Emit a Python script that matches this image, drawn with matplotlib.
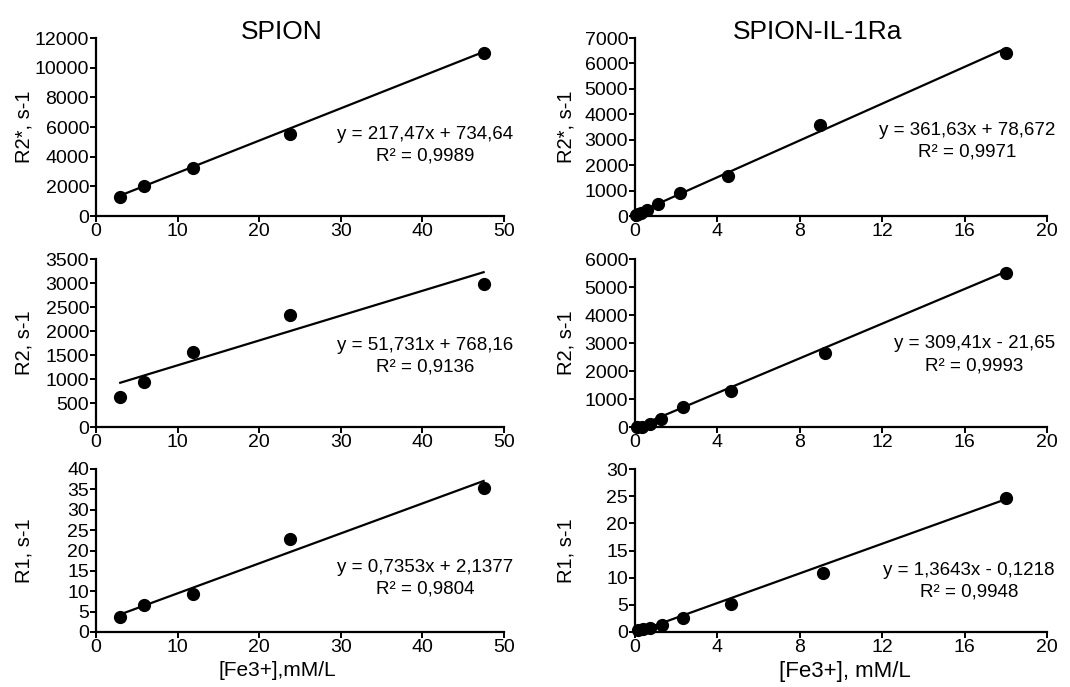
import matplotlib
matplotlib.use("Agg")
import matplotlib.pyplot as plt
import numpy as np

plt.rcParams['font.family'] = ['Liberation Sans', 'DejaVu Sans']

# --- data --------------------------------------------------------
# SPION (left column)
spion_fe = [2.97, 5.94, 11.9, 23.8, 47.5]
spion_r2s = [1300, 2040, 3250, 5560, 10970]
spion_r2 = [630, 940, 1570, 2330, 2980]
spion_r1 = [3.7, 6.6, 9.4, 22.8, 35.3]

# SPION-IL-1Ra (right column)
il_fe_r2s = [0.07, 0.14, 0.28, 0.56, 1.1, 2.2, 4.5, 9.0, 18.0]
il_r2s = [30, 60, 120, 250, 462, 900, 1590, 3560, 6410]
il_fe_r2 = [0.1, 0.35, 0.75, 1.27, 2.33, 4.64, 9.2, 18.0]
il_r2 = [0, 0, 120, 290, 720, 1270, 2650, 5510]
il_fe_r1 = [0.16, 0.4, 0.73, 1.3, 2.35, 4.65, 9.15, 18.0]
il_r1 = [0.3, 0.5, 0.8, 1.3, 2.5, 5.1, 10.9, 24.6]

# linear fits shown on the chart: (slope, intercept, equation text, R^2 text)
fits = {
    "spion_r2s": (217.47, 734.64, "y = 217,47x + 734,64", "R² = 0,9989"),
    "spion_r2": (51.731, 768.16, "y = 51,731x + 768,16", "R² = 0,9136"),
    "spion_r1": (0.7353, 2.1377, "y = 0,7353x + 2,1377", "R² = 0,9804"),
    "il_r2s": (361.63, 78.672, "y = 361,63x + 78,672", "R² = 0,9971"),
    "il_r2": (309.41, -21.65, "y = 309,41x - 21,65", "R² = 0,9993"),
    "il_r1": (1.3643, -0.1218, "y = 1,3643x - 0,1218", "R² = 0,9948"),
}

# --- layout -------------------------------------------------------
W, H = 1070, 687
fig = plt.figure(figsize=(W / 100, H / 100), dpi=100)


def px_axes(x0, x1, ytop, ybot):
    return fig.add_axes([x0 / W, 1 - ybot / H, (x1 - x0) / W, (ybot - ytop) / H])


rows = [(38, 216), (259, 427), (469, 632)]
cols = [(96, 504), (635, 1047)]

panels = [
    # col, row, x, y, fit key, ylim, ystep, ylabel, text pos
    (0, 0, spion_fe, spion_r2s, "spion_r2s", 12000, 2000, "R2*, s-1", (0.806, 0.40)),
    (0, 1, spion_fe, spion_r2, "spion_r2", 3500, 500, "R2, s-1", (0.806, 0.42)),
    (0, 2, spion_fe, spion_r1, "spion_r1", 40, 5, "R1, s-1", (0.806, 0.33)),
    (1, 0, il_fe_r2s, il_r2s, "il_r2s", 7000, 1000, "R2*, s-1", (0.806, 0.42)),
    (1, 1, il_fe_r2, il_r2, "il_r2", 6000, 1000, "R2, s-1", (0.823, 0.43)),
    (1, 2, il_fe_r1, il_r1, "il_r1", 30, 5, "R1, s-1", (0.81, 0.31)),
]

for c, r, xs, ys, key, ymax, ystep, ylab, tpos in panels:
    ax = px_axes(cols[c][0], cols[c][1], rows[r][0], rows[r][1])
    slope, icpt, eq, r2 = fits[key]
    xs = np.asarray(xs)
    xl = np.array([xs.min(), xs.max()])
    ax.plot(xl, slope * xl + icpt, color="black", lw=1.6, zorder=2)
    ax.plot(xs, ys, "o", color="black", ms=8.5, zorder=3, clip_on=False)

    xmax, xstep = (50, 10) if c == 0 else (20, 4)
    ax.set_xlim(0, xmax)
    ax.set_ylim(0, ymax)
    ax.set_xticks(np.arange(0, xmax + 0.1, xstep))
    ax.set_yticks(np.arange(0, ymax + 0.1, ystep))

    for s in ("top", "right"):
        ax.spines[s].set_visible(False)
    for s in ("left", "bottom"):
        ax.spines[s].set_linewidth(1.6)
    ax.tick_params(direction="out", length=4, width=1.4, labelsize=14, pad=1)

    ax.set_ylabel(ylab, fontsize=14.5)
    ax.yaxis.set_label_coords(-(62 if c == 0 else 59) / (cols[c][1] - cols[c][0]), 0.5)

    ax.text(tpos[0], tpos[1], eq + "\n" + r2, transform=ax.transAxes,
            ha="center", va="center", fontsize=13.5, linespacing=1.35)

    if r == 0:
        ax.text(0.456 if c == 0 else 0.444, 0.994, "SPION" if c == 0 else "SPION-IL-1Ra",
                transform=ax.transAxes, ha="center", va="baseline", fontsize=19)
    if r == 2:
        ax.set_xlabel("[Fe3+],mM/L" if c == 0 else "[Fe3+], mM/L",
                      fontsize=15 if c == 0 else 16)
        ax.xaxis.set_label_coords(0.445 if c == 0 else 0.51, -0.18)

fig.savefig("out.png", dpi=100)
